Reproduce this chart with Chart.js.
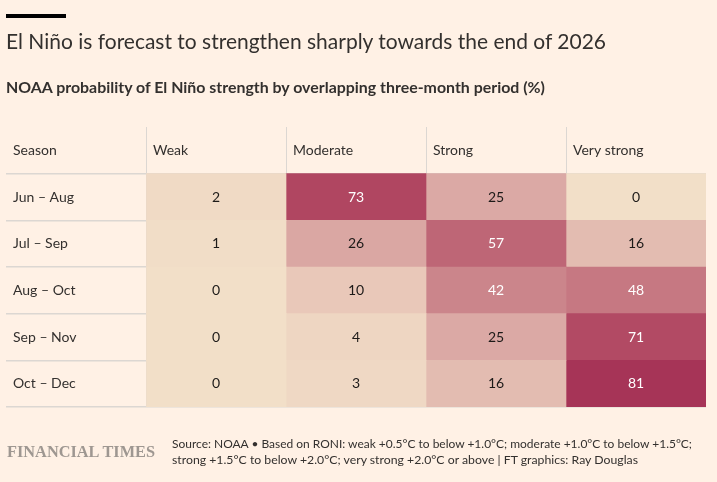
<!DOCTYPE html>
<html>
<head>
<meta charset="utf-8">
<title>El Niño strength probability</title>
<script src="https://cdn.jsdelivr.net/npm/chart.js@4.4.1/dist/chart.umd.min.js"></script>
<style>
  html, body { margin: 0; padding: 0; background: #fff1e5; }
  #wrap { position: relative; width: 717px; height: 482px; overflow: hidden; background: #fff1e5; }
  canvas { position: absolute; left: 0; top: 0; }
  .txt { position: absolute; white-space: nowrap; line-height: 1; transform-origin: 0 0;
         color: #33302e; font-family: Lato, sans-serif; }
  #bar { position: absolute; left: 6px; top: 14px; width: 60px; height: 4px; background: #000; }
  #title { left: 6px; top: 30px; font-size: 21px; }
  #subtitle { left: 6px; top: 80px; font-size: 15px; font-weight: bold; }
  #ft { left: 7px; top: 443px; font-family: 'Liberation Serif', serif; font-size: 17px;
        font-weight: bold; color: #9e9791; }
  .src { left: 172px; font-size: 12px; }
</style>
</head>
<body>
<div id="wrap">
  <canvas id="heat" width="717" height="482"></canvas>
  <div id="bar"></div>
  <div class="txt" id="title" data-w="600">El Niño is forecast to strengthen sharply towards the end of 2026</div>
  <div class="txt" id="subtitle" data-w="539">NOAA probability of El Niño strength by overlapping three-month period (%)</div>
  <div class="txt" id="ft" data-w="148">FINANCIAL TIMES</div>
  <div class="txt src" style="top:438px" data-w="520">Source: NOAA • Based on RONI: weak +0.5°C to below +1.0°C; moderate +1.0°C to below +1.5°C;</div>
  <div class="txt src" style="top:453.5px" data-w="466">strong +1.5°C to below +2.0°C; very strong +2.0°C or above | FT graphics: Ray Douglas</div>
</div>
<script>
// données du tableau
const headerLabel = 'Season';
const seasons = ['Jun – Aug', 'Jul – Sep', 'Aug – Oct', 'Sep – Nov', 'Oct – Dec'];
const strengths = ['Weak', 'Moderate', 'Strong', 'Very strong'];
const weak = [2, 1, 0, 0, 0];
const moderate = [73, 26, 10, 4, 3];
const strong = [25, 57, 42, 25, 16];
const veryStrong = [0, 16, 48, 71, 81];
const seriesValues = [weak, moderate, strong, veryStrong];

const textColor = '#33302e';
const gridColor = '#dcd7d2';

// palette séquentielle (beige -> framboise)
const colorStops = [
  [0, [242, 223, 200]],
  [10, [233, 200, 185]],
  [25, [219, 169, 165]],
  [48, [198, 120, 130]],
  [73, [176, 70, 97]],
  [81, [166, 52, 87]]
];

function cellColor(v) {
  for (let i = 1; i < colorStops.length; i++) {
    const [v0, c0] = colorStops[i - 1];
    const [v1, c1] = colorStops[i];
    if (v <= v1) {
      const t = (v - v0) / (v1 - v0);
      const c = c0.map((a, j) => Math.round(a + (c1[j] - a) * t));
      return 'rgb(' + c.join(',') + ')';
    }
  }
  const last = colorStops[colorStops.length - 1][1];
  return 'rgb(' + last.join(',') + ')';
}

// une série par colonne, barres flottantes [k, k+1]
const datasets = seriesValues.map((vals, k) => ({
  label: strengths[k],
  data: vals.map((v, i) => ({ y: seasons[i], x: [k, k + 1] })),
  backgroundColor: vals.map(cellColor),
  borderWidth: 0,
  borderSkipped: false,
  categoryPercentage: 1,
  barPercentage: 1,
  grouped: false
}));

// textes du tableau (en-têtes, saisons, valeurs)
const tableText = {
  id: 'tableText',
  afterDraw(chart) {
    const { ctx } = chart;
    const x = chart.scales.x;
    const y = chart.scales.y;
    ctx.save();
    ctx.font = '14px Lato, sans-serif';
    ctx.textBaseline = 'middle';
    ctx.textAlign = 'left';
    ctx.fillStyle = textColor;
    const hy = y.getPixelForValue(0);
    ctx.fillText(headerLabel, x.getPixelForValue(-1) + 7, hy);
    strengths.forEach((s, k) => ctx.fillText(s, x.getPixelForValue(k) + 7, hy));
    seasons.forEach((s, i) => ctx.fillText(s, x.getPixelForValue(-1) + 7, y.getPixelForValue(i + 1)));

    ctx.textAlign = 'center';
    seriesValues.forEach((vals, k) => {
      vals.forEach((v, i) => {
        ctx.fillStyle = v >= 40 ? '#ffffff' : '#1d1a18';
        ctx.fillText(String(v), x.getPixelForValue(k + 0.5), y.getPixelForValue(i + 1));
      });
    });
    ctx.restore();
  }
};

new Chart(document.getElementById('heat'), {
  type: 'bar',
  data: { labels: [headerLabel, ...seasons], datasets: datasets },
  options: {
    indexAxis: 'y',
    responsive: false,
    animation: false,
    layout: { padding: { left: 6, right: 11, top: 127, bottom: 75 } },
    plugins: { legend: { display: false }, tooltip: { enabled: false } },
    scales: {
      x: {
        type: 'linear', min: -1, max: 4, z: 1,
        border: { display: false },
        ticks: { display: false, stepSize: 1 },
        grid: {
          drawTicks: false, lineWidth: 1,
          color: c => (c.tick && (c.tick.value === -1 || c.tick.value === 4)) ? 'rgba(0,0,0,0)' : gridColor
        }
      },
      y: {
        type: 'category', offset: true, z: 1,
        border: { display: false },
        ticks: { display: false },
        grid: {
          offset: true, drawTicks: false, lineWidth: 1.5,
          color: c => c.index === 0 ? 'rgba(0,0,0,0)' : gridColor
        }
      }
    }
  },
  plugins: [tableText]
});

// ajuste la largeur des textes à celle de l'original
function fitTexts() {
  document.querySelectorAll('.txt[data-w]').forEach(el => {
    el.style.transform = 'none';
    const w = el.getBoundingClientRect().width;
    const target = parseFloat(el.getAttribute('data-w'));
    if (w > 0) el.style.transform = 'scaleX(' + (target / w) + ')';
  });
}
fitTexts();
if (document.fonts && document.fonts.ready) document.fonts.ready.then(fitTexts);
</script>
</body>
</html>
